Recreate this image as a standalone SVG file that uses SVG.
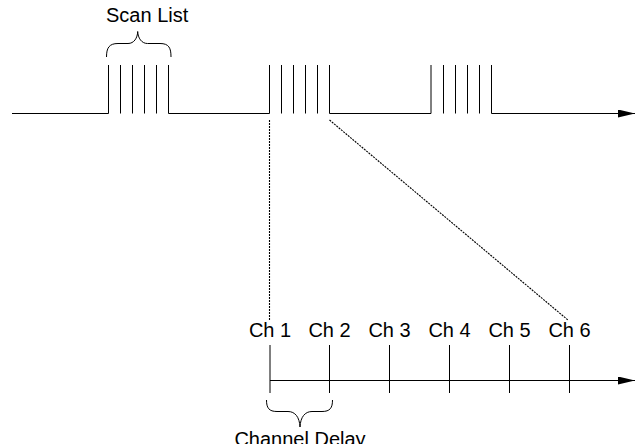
<svg xmlns="http://www.w3.org/2000/svg" width="635" height="444" viewBox="0 0 635 444">
<style>
.ln{fill:none;stroke:#000;stroke-width:1}
.dot{fill:none;stroke:#000;stroke-width:1.1;stroke-dasharray:2 1}
.t{font-family:"Liberation Sans",Arial,sans-serif;font-size:20px;fill:#000}
</style>
<defs>
<marker id="ah" viewBox="0 0 17 8" refX="17" refY="4" markerWidth="17" markerHeight="8" markerUnits="userSpaceOnUse" orient="auto">
<path d="M0,0 L17,4 L0,8 Z" fill="#000"/>
</marker>
</defs>
<rect width="635" height="444" fill="#fff"/>
<g id="signal">
<path class="ln" d="M12,113.5 H108.5 V65" />
<path class="ln" d="M120.5,65V113.5M132.5,65V113.5M144.5,65V113.5M156.5,65V113.5"/>
<path class="ln" d="M168.5,65 V113.5 H269.5 V65"/>
<path class="ln" d="M281.5,65V113.5M293.5,65V113.5M305.5,65V113.5M317.5,65V113.5"/>
<path class="ln" d="M329.5,65 V113.5 H431 V65"/>
<path class="ln" d="M443.5,65V113.5M455.5,65V113.5M467.5,65V113.5M479.5,65V113.5"/>
<path class="ln" d="M491.5,65 V113.5 H635" marker-end="url(#ah)"/>
</g>
<g id="scan-list">
<path class="ln" d="M106.5,57 C106.5,48 109,43.5 118,43.5 H128 C134,43.5 137.5,38 137.7,31.5 C138,38 141.5,43.5 147.5,43.5 H160 C169,43.5 171,48 171,57"/>
<text class="t" x="106" y="22">Scan List</text>
</g>
<g id="connectors">
<path class="dot" d="M269.5,120 V321"/>
<path class="dot" d="M329.5,120 L568.5,320.5"/>
</g>
<g id="timeline">
<path class="ln" d="M270,380.5 H635" marker-end="url(#ah)"/>
<path class="ln" d="M270,345V393M329.5,345V393M389.5,345V393M449.5,345V393M509.5,345V393M569.5,345V393"/>
</g>
<g id="channels">
<text class="t" x="270" y="337" text-anchor="middle">Ch 1</text>
<text class="t" x="329.5" y="337" text-anchor="middle">Ch 2</text>
<text class="t" x="389.5" y="337" text-anchor="middle">Ch 3</text>
<text class="t" x="449.5" y="337" text-anchor="middle">Ch 4</text>
<text class="t" x="509.5" y="337" text-anchor="middle">Ch 5</text>
<text class="t" x="569.5" y="337" text-anchor="middle">Ch 6</text>
</g>
<g id="channel-delay">
<path class="ln" d="M266.5,400 C266.5,408 269,411.5 277,411.5 H288 C295,411.5 299.5,417 300,427 C300.5,417 305,411.5 312,411.5 H322 C330,411.5 332.5,408 332.5,400"/>
<text class="t" x="300" y="446" text-anchor="middle">Channel Delay</text>
</g>
</svg>
